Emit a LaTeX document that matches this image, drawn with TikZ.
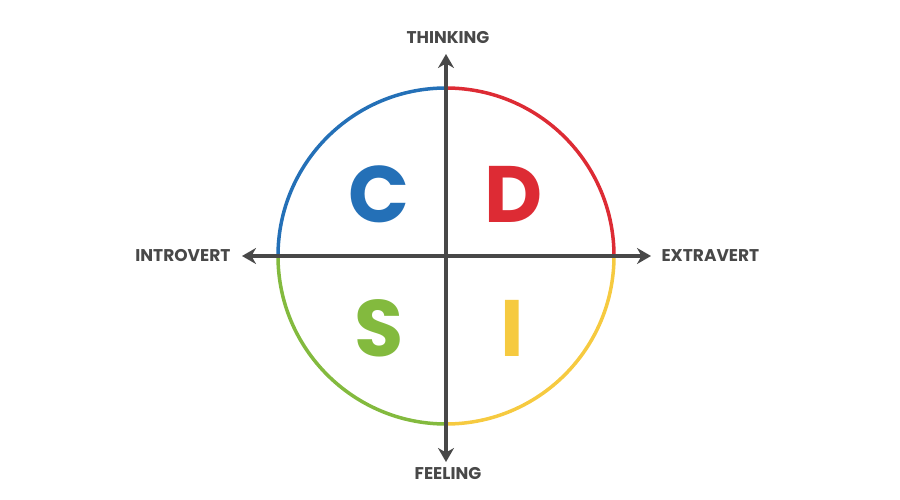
\documentclass[tikz,border=0pt]{standalone}
\usepackage{fontspec}
\setmainfont{Poppins}
\usetikzlibrary{arrows.meta}

\definecolor{discblue}{RGB}{36,112,183}
\definecolor{discred}{RGB}{221,43,52}
\definecolor{discgreen}{RGB}{131,186,62}
\definecolor{discyellow}{RGB}{246,202,64}
\definecolor{axisgrey}{RGB}{72,72,72}

\tikzset{
  arc/.style={line width=3.5pt},
  axis/.style={line width=4pt, axisgrey, {Stealth[length=14pt,width=16pt]}-{Stealth[length=14pt,width=16pt]}},
  axislabel/.style={font=\fontsize{17}{20}\selectfont\bfseries, text=axisgrey},
  letter/.style={font=\fontsize{80}{90}\selectfont\bfseries}
}

\begin{document}
\begin{tikzpicture}[x=1pt, y=-1pt]
\useasboundingbox (0,0) rectangle (900,500);

% quadrant arcs (y is flipped, so angles run the other way)
\draw[arc, discred] (446,88) arc[start angle=-90, end angle=0, radius=168];
\draw[arc, discblue] (446,88) arc[start angle=-90, end angle=-180, radius=168];
\draw[arc, discgreen] (278,256) arc[start angle=180, end angle=90, radius=168];
\draw[arc, discyellow] (614,256) arc[start angle=0, end angle=90, radius=168];

% axes
\coordinate (top) at (446,54);
\coordinate (bottom) at (446,462);
\coordinate (left) at (242,256);
\coordinate (right) at (651,256);
\draw[axis] (bottom) -- (top);
\draw[axis] (left) -- (right);

\node[axislabel, anchor=south] (thinking) at (448,47) {THINKING};
\node[axislabel, anchor=north] (feeling) at (448,464) {FEELING};
\node[axislabel, anchor=east] (introvert) at (234,256) {INTROVERT};
\node[axislabel, anchor=west] (extravert) at (658,256) {EXTRAVERT};

% letters
\node[letter, text=discblue] (C) at (379,194) {C};
\node[letter, text=discred] (D) at (514,194) {D};
\node[letter, text=discgreen] (S) at (379,328) {S};
\node[letter, text=discyellow] (I) at (512,328) {I};
\end{tikzpicture}
\end{document}
